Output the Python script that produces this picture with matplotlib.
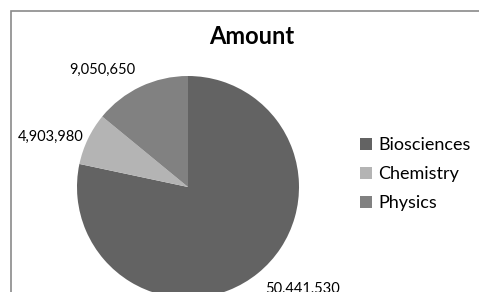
import numpy as np
import matplotlib.pyplot as plt
from matplotlib.patches import Rectangle

# data
names = ['Biosciences', 'Chemistry', 'Physics']
amounts = [50441530, 4903980, 9050650]
colors = ['#636363', '#b4b4b4', '#818181']

plt.rcParams['font.family'] = ['Lato', 'DejaVu Sans']

W, H = 479, 292
fig = plt.figure(figsize=(W / 100, H / 100), dpi=100)

# chart border (cut off on right and bottom like the reference)
fig.patches.append(Rectangle((10.5 / W, -0.1), 1.0, (H - 10.5) / H + 0.1,
                             transform=fig.transFigure, fill=False,
                             edgecolor='#8a8a8a', linewidth=1.2))

# pie axes: centre (188, 187) px from top, radius 111 px
cx, cy, r = 188, H - 187, 111
ax = fig.add_axes([(cx - r) / W, (cy - r) / H, 2 * r / W, 2 * r / H])

value_labels = [f'{v:,}' for v in amounts]
wedges, texts = ax.pie(amounts, labels=value_labels, colors=colors,
                       startangle=90, counterclock=False, radius=1,
                       labeldistance=1.1,
                       textprops={'fontsize': 10.5, 'color': '#000000'})
ax.set_xlim(-1, 1)
ax.set_ylim(-1, 1)
ax.set_aspect('equal')

# label corners touching the wedge, like excel "outside end"
texts[0].set_va('top')
texts[2].set_va('bottom')
w = wedges[1]
mid = np.deg2rad((w.theta1 + w.theta2) / 2)
texts[1].set_position((1.04 * np.cos(mid), 1.04 * np.sin(mid)))

fig.text(252 / W, 1 - 37 / H, 'Amount', ha='center', va='center',
         fontsize=17, fontweight='bold')

fig.legend(wedges, names, loc='center left',
           bbox_to_anchor=(360 / W, 1 - 174 / H),
           frameon=False, fontsize=13, borderpad=0, borderaxespad=0,
           handlelength=0.65, handleheight=0.65, handletextpad=0.35,
           labelspacing=0.72)

fig.savefig('out.png', dpi=100)
